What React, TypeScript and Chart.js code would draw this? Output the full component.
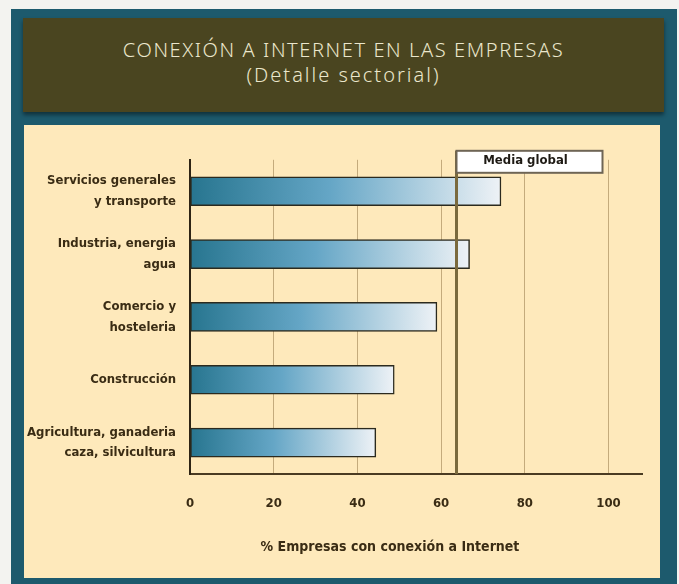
import React, { useEffect, useRef } from "react";
import { Chart, registerables } from "chart.js";

Chart.register(...registerables);

const TITLE = "CONEXIÓN A INTERNET EN LAS EMPRESAS";
const SUBTITLE = "(Detalle sectorial)";
const CATEGORIES: string[][] = [
  ["Servicios generales", "y transporte"],
  ["Industria, energia", "agua"],
  ["Comercio y", "hosteleria"],
  ["Construcción"],
  ["Agricultura, ganaderia", "caza, silvicultura"],
];
const VALUES = [74.3, 66.8, 59, 48.8, 44.4];
const MEDIA_GLOBAL = 63.6;
const MEDIA_LABEL = "Media global";
const X_TICKS = [0, 20, 40, 60, 80, 100];
const X_MAX = 108;
const X_TITLE = "% Empresas con conexión a Internet";

const NARROW = '"Liberation Sans Narrow", "DejaVu Sans Condensed", Arial, sans-serif';
const TEXT = "#3a2c14";

export default function App() {
  const ref = useRef<HTMLCanvasElement | null>(null);
  useEffect(() => {
    if (!ref.current) return;
    const overlay = {
      id: "overlay",
      afterDatasetsDraw(chart: any) {
        const { ctx, scales, chartArea } = chart;
        const xs = scales.x;
        const mx = Math.round(xs.getPixelForValue(MEDIA_GLOBAL)) + 0.5;
        ctx.save();
        ctx.strokeStyle = "#7a6a3e";
        ctx.lineWidth = 3;
        ctx.beginPath();
        ctx.moveTo(mx, chartArea.top - 9);
        ctx.lineTo(mx, chartArea.bottom);
        ctx.stroke();
        const bx = mx, by = chartArea.top - 9, bw = 146, bh = 22;
        ctx.fillStyle = "#ffffff";
        ctx.fillRect(bx, by, bw, bh);
        ctx.strokeStyle = "#6e6555";
        ctx.lineWidth = 2;
        ctx.strokeRect(bx, by, bw, bh);
        ctx.fillStyle = "#1e1a14";
        ctx.font = "bold 13px " + NARROW;
        ctx.textAlign = "center";
        ctx.textBaseline = "middle";
        ctx.fillText(MEDIA_LABEL, bx + bw / 2 - 4, by + bh / 2 - 1);
        ctx.fillStyle = TEXT;
        ctx.font = "bold 14px " + NARROW;
        ctx.fillText(X_TITLE, xs.getPixelForValue(0) + 200, chartArea.bottom + 73);
        ctx.restore();
      },
    };
    const chart = new Chart(ref.current, {
      type: "bar",
      data: {
        labels: CATEGORIES,
        datasets: [
          {
            data: VALUES,
            barThickness: 29,
            borderColor: "#2b2a1e",
            borderWidth: 1.5,
            borderSkipped: false,
            backgroundColor: (c: any) => {
              const ch = c.chart;
              const xs = ch.scales && ch.scales.x;
              if (!xs || c.type !== "data") return "#5fa3c4";
              const x0 = xs.getPixelForValue(0);
              const x1 = xs.getPixelForValue(c.raw as number);
              if (!isFinite(x0) || !isFinite(x1) || x1 <= x0) return "#5fa3c4";
              const g = ch.ctx.createLinearGradient(x0, 0, x1, 0);
              g.addColorStop(0, "#27758f");
              g.addColorStop(0.45, "#65a6c6");
              g.addColorStop(1, "#eef2f6");
              return g;
            },
          },
        ],
      },
      options: {
        indexAxis: "y",
        responsive: false,
        animation: false,
        events: [],
        layout: { padding: { top: 31, right: 18, left: 0, bottom: 0 } },
        plugins: { legend: { display: false }, tooltip: { enabled: false }, title: { display: false } },
        scales: {
          x: {
            min: 0,
            max: X_MAX,
            afterFit: (s: any) => { s.height = 104; },
            afterBuildTicks: (s: any) => { s.ticks = X_TICKS.map((v) => ({ value: v })); },
            ticks: {
              includeBounds: false,
              padding: 22,
              color: TEXT,
              font: { family: NARROW, size: 13, weight: "bold" },
            },
            grid: {
              drawTicks: false,
              color: (c: any) => (c.tick && c.tick.value === 0 ? "rgba(0,0,0,0)" : "#c4ab7c"),
              lineWidth: 1,
            },
            border: { display: true, color: "#4a3b22", width: 2 },
          },
          y: {
            afterFit: (s: any) => { s.width = 166; },
            ticks: {
              padding: 14,
              color: TEXT,
              font: { family: NARROW, size: 13, weight: "bold", lineHeight: 1.6 },
            },
            grid: { display: false, drawTicks: false },
            border: { display: true, color: "#2e2414", width: 2 },
          },
        },
      },
      plugins: [overlay],
    } as any);
    chart.update();
    return () => chart.destroy();
  }, []);

  return (
    <div style={{ position: "absolute", left: 0, top: 0, width: 679, height: 584, background: "#f3f3f0", overflow: "hidden" }}>
      <div style={{ position: "absolute", left: 11, top: 9, width: 666, height: 590, background: "#1d5a6d" }} />
      <div
        style={{
          position: "absolute",
          left: 23,
          top: 18,
          width: 641,
          height: 94,
          background: "#4a4520",
          boxShadow: "0 3px 4px rgba(0,0,0,0.45)",
          color: "#ebe7cc",
          textAlign: "center",
          fontFamily: '"Noto Sans", "DejaVu Sans", sans-serif',
          fontWeight: 300,
        }}
      >
        <div style={{ position: "absolute", left: 0, right: 0, top: 20, fontSize: 20, lineHeight: "24px", letterSpacing: 1.6 }}>{TITLE}</div>
        <div style={{ position: "absolute", left: 0, right: 0, top: 45, fontSize: 20, lineHeight: "24px", letterSpacing: 2 }}>{SUBTITLE}</div>
      </div>
      <div style={{ position: "absolute", left: 24, top: 125, width: 636, height: 453, background: "#fee9bb" }}>
        <canvas ref={ref} width={636} height={453} style={{ display: "block", width: 636, height: 453 }} />
      </div>
    </div>
  );
}
